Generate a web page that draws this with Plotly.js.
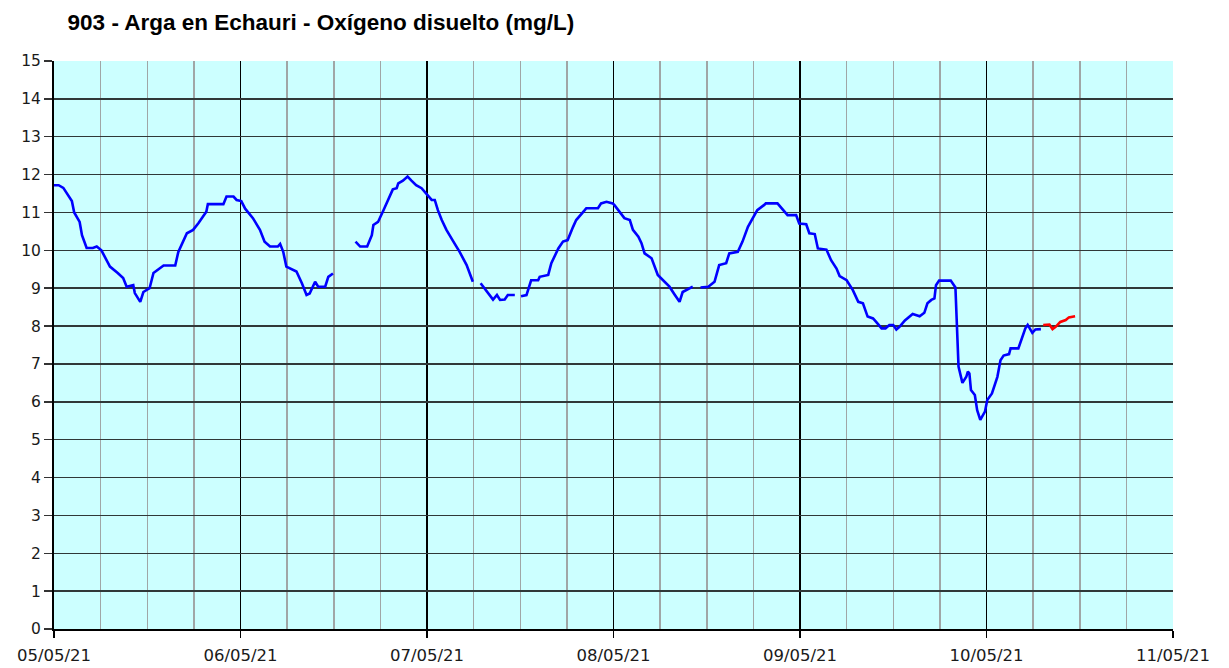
<!DOCTYPE html>
<html>
<head>
<meta charset="utf-8">
<script src="https://cdn.plot.ly/plotly-3.0.1.min.js"></script>
<style>
  body { margin: 0; background: #fff; }
  #plot { width: 1229px; height: 668px; }
</style>
</head>
<body>
<div id="plot"></div>
<script>
// Hours since 05/05/21 00:00 and dissolved oxygen (mg/L).
// null marks the gaps in the record.
let blueHours = [
    0.0, 0.6, 1.2, 1.8, 2.3, 2.6, 3.3, 3.6, 4.2, 5.0, 5.5, 6.1, 6.6, 7.2, 8.2, 8.9,
    9.35, 10.2, 10.4, 11.1, 11.5, 12.3, 12.8, 14.1, 15.6, 16.0, 17.1, 17.9, 18.6, 19.6, 19.8, 21.8,
    22.2, 23.1, 23.5, 24.1, 24.6, 25.6, 26.5, 27.1, 27.8, 28.8, 29.1, 29.5, 29.9, 31.2, 31.9, 32.5,
    32.9, 33.6, 34.0, 34.9, 35.3, 35.9, 37.0, 38.8, 39.4, 40.3, 40.9, 41.1, 41.7, 42.4, 43.0, 43.6,
    44.1, 44.3, 44.9, 45.5, 46.0, 46.6, 47.3, 47.9, 48.6, 49.0, 49.4, 49.9, 50.5, 51.4, 52.2, 53.1,
    53.9, 54.4, 54.9, 55.6, 56.5, 57.0, 57.4, 58.0, 58.4, 59.3, 59.7, 60.1, 60.8, 61.4, 62.3, 62.5,
    63.6, 64.0, 64.9, 65.5, 66.1, 66.8, 67.2, 68.3, 68.5, 70.0, 70.4, 71.1, 71.9, 72.1, 72.6, 73.4,
    74.1, 74.5, 75.2, 75.6, 76.0, 76.9, 77.7, 78.4, 79.2, 79.9, 80.5, 80.9, 81.8, 82.2, 82.7, 83.2,
    84.2, 85.0, 85.6, 86.5, 86.9, 88.0, 88.6, 89.3, 89.9, 90.5, 91.4, 91.6, 93.1, 93.8, 94.4, 95.5,
    95.9, 96.8, 97.2, 97.9, 98.3, 99.4, 100.0, 100.7, 101.1, 102.0, 102.8, 103.5, 104.1, 104.7, 105.4, 105.8,
    106.5, 107.0, 107.5, 108.0, 108.4, 108.8, 109.5, 110.5, 111.4, 112.0, 112.4, 112.9, 113.3, 113.5, 113.9, 115.4,
    116.0, 116.3, 116.4, 116.9, 117.4, 117.6, 117.8, 118.0, 118.5, 118.8, 119.2, 119.8, 120.1, 120.7, 121.4, 121.8,
    122.2, 122.9, 123.1, 124.1, 124.6, 125.0, 125.3, 125.9, 126.3, 127.0
];
let blueValues = [
    11.72, 11.72, 11.65, 11.45, 11.3, 11.0, 10.75, 10.4, 10.06, 10.06, 10.1, 10.0, 9.8, 9.57, 9.4, 9.27,
    9.04, 9.08, 8.87, 8.64, 8.9, 9.0, 9.4, 9.6, 9.6, 9.96, 10.45, 10.54, 10.72, 11.02, 11.22, 11.22,
    11.42, 11.42, 11.33, 11.3, 11.1, 10.85, 10.54, 10.23, 10.1, 10.1, 10.17, 9.96, 9.57, 9.44, 9.13, 8.82,
    8.86, 9.17, 9.04, 9.04, 9.3, 9.39, null, 10.23, 10.1, 10.1, 10.4, 10.67, 10.75, 11.06, 11.33, 11.61,
    11.64, 11.77, 11.84, 11.95, 11.84, 11.72, 11.64, 11.5, 11.33, 11.33, 11.06, 10.8, 10.54, 10.23, 9.96, 9.61,
    9.17, null, 9.13, 8.95, 8.7, 8.82, 8.69, 8.7, 8.82, 8.82, null, 8.79, 8.82, 9.21, 9.21, 9.3,
    9.35, 9.66, 10.05, 10.23, 10.27, 10.62, 10.8, 11.06, 11.11, 11.11, 11.24, 11.28, 11.24, 11.2, 11.06, 10.85,
    10.8, 10.54, 10.36, 10.19, 9.92, 9.79, 9.35, 9.21, 9.04, 8.82, 8.64, 8.9, 9.0, 9.04, null, 9.02,
    9.04, 9.17, 9.61, 9.66, 9.92, 9.96, 10.23, 10.62, 10.85, 11.06, 11.2, 11.24, 11.24, 11.06, 10.93, 10.93,
    10.71, 10.69, 10.45, 10.43, 10.05, 10.02, 9.74, 9.52, 9.32, 9.21, 8.95, 8.64, 8.6, 8.25, 8.2, 8.11,
    7.94, 7.94, 8.03, 8.03, 7.91, 7.98, 8.15, 8.32, 8.26, 8.35, 8.6, 8.69, 8.73, 9.08, 9.2, 9.2,
    9.02, 7.45, 6.93, 6.5, 6.66, 6.8, 6.75, 6.31, 6.18, 5.78, 5.52, 5.74, 6.05, 6.22, 6.66, 7.1,
    7.22, 7.26, 7.41, 7.41, 7.72, 7.94, 8.03, 7.82, 7.91, 7.92
];

// last stretch, drawn in red
let redHours = [127.3, 128.1, 128.5, 128.9, 129.5, 130.2, 130.6, 131.4];
let redValues = [8.03, 8.04, 7.92, 7.98, 8.11, 8.16, 8.23, 8.26];

let yTicks = [0, 1, 2, 3, 4, 5, 6, 7, 8, 9, 10, 11, 12, 13, 14, 15];

// turn hour offsets into timestamps
let start = Date.UTC(2021, 4, 5);
function toDate(h) {
    return new Date(start + h * 3600 * 1000).toISOString().slice(0, 19).replace('T', ' ');
}

let blueTrace = {
    x: blueHours.map(toDate),
    y: blueValues,
    type: 'scatter',
    mode: 'lines',
    connectgaps: false,
    line: {color: '#0000ff', width: 2.6},
    hoverinfo: 'skip'
};

let redTrace = {
    x: redHours.map(toDate),
    y: redValues,
    type: 'scatter',
    mode: 'lines',
    line: {color: '#ff0000', width: 2.6},
    hoverinfo: 'skip'
};

let data = [blueTrace, redTrace];

let layout = {
    width: 1229,
    height: 668,
    margin: {l: 54, r: 56, t: 61, b: 39},
    paper_bgcolor: '#ffffff',
    plot_bgcolor: '#ccffff',
    showlegend: false,
    title: {
        text: '903 - Arga en Echauri - Oxígeno disuelto (mg/L)',
        font: {family: 'Liberation Sans, Arial, sans-serif', size: 22.5, color: '#000', weight: 'bold'},
        x: 0.055,
        xanchor: 'left',
        y: 0.967,
        yanchor: 'middle'
    },
    xaxis: {
        type: 'date',
        range: [toDate(0), toDate(144)],
        dtick: 86400000,
        tick0: toDate(0),
        tickformat: '%d/%m/%y',
        ticks: 'outside',
        ticklen: 7,
        tickwidth: 1.5,
        tickcolor: '#000',
        ticklabelstandoff: 3,
        showgrid: true,
        gridcolor: '#000',
        gridwidth: 1.3,
        minor: {dtick: 6 * 3600 * 1000, showgrid: true, gridcolor: '#a0a6a6', gridwidth: 1.5},
        showline: true,
        linecolor: '#000',
        linewidth: 2,
        zeroline: false,
        tickfont: {family: 'DejaVu Sans, Verdana, sans-serif', size: 16.5, color: '#1a1a1a'},
        fixedrange: true
    },
    yaxis: {
        range: [0, 15],
        tickvals: yTicks,
        ticks: 'outside',
        ticklen: 8,
        tickwidth: 1.5,
        tickcolor: '#333',
        showgrid: true,
        gridcolor: '#303838',
        gridwidth: 1.5,
        showline: true,
        linecolor: '#000',
        linewidth: 2,
        zeroline: false,
        tickfont: {family: 'DejaVu Sans, Verdana, sans-serif', size: 15.5, color: '#1a1a1a'},
        fixedrange: true
    }
};

Plotly.newPlot('plot', data, layout, {displayModeBar: false, staticPlot: true});
</script>
</body>
</html>
